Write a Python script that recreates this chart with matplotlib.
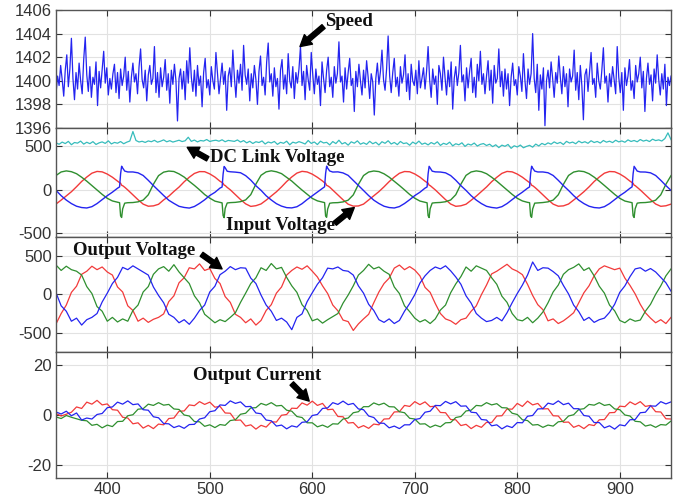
import numpy as np
import matplotlib.pyplot as plt

plt.rcParams['font.family'] = 'Liberation Sans'
plt.rcParams['axes.unicode_minus'] = False

# ---- speed (rpm), sampled every 1.5 units ----
speed = [1398.9, 1400.4, 1399.6, 1401.3, 1400.1, 1398.7, 1400.9, 1402.2, 1399.5, 1401.0, 1403.6, 1400.2, 1398.4, 1400.7, 1399.3, 1401.5, 1400.0, 1398.9, 1401.8, 1403.7,
         1400.5, 1399.1, 1401.2, 1398.6, 1400.3, 1399.7, 1401.6, 1397.9, 1400.8, 1399.4, 1400.9, 1402.5, 1399.8, 1401.1, 1398.8, 1400.2, 1399.3, 1400.6, 1401.4, 1399.0,
         1400.7, 1398.5, 1401.0, 1399.6, 1400.4, 1402.0, 1399.2, 1400.8, 1398.2, 1400.3, 1401.5, 1399.9, 1400.6, 1398.9, 1401.2, 1402.7, 1400.1, 1399.4, 1400.9, 1398.3,
         1400.5, 1401.3, 1399.7, 1400.2, 1402.9, 1399.0, 1400.7, 1398.6, 1401.1, 1399.5, 1400.3, 1401.8, 1399.2, 1400.6, 1398.1, 1400.9, 1399.7, 1401.4, 1400.0, 1396.6,
         1400.2, 1401.0, 1399.3, 1400.8, 1398.4, 1401.7, 1399.8, 1402.8, 1400.3, 1399.1, 1400.9, 1398.7, 1401.3, 1399.6, 1400.4, 1397.8, 1400.7, 1401.9, 1399.4, 1400.1,
         1398.8, 1401.2, 1400.0, 1399.3, 1402.4, 1400.6, 1398.9, 1400.2, 1401.5, 1399.7, 1400.8, 1397.5, 1400.4, 1401.1, 1399.5, 1402.6, 1400.3, 1398.6, 1400.9, 1399.8,
         1401.4, 1399.2, 1403.0, 1400.5, 1399.7, 1401.0, 1398.3, 1400.6, 1399.4, 1401.3, 1400.1, 1398.0, 1400.8, 1402.1, 1399.6, 1400.3, 1398.8, 1401.6, 1403.2, 1399.9,
         1400.6, 1398.7, 1401.1, 1399.5, 1400.2, 1397.6, 1400.9, 1401.8, 1399.3, 1400.5, 1398.9, 1402.3, 1400.0, 1399.4, 1401.2, 1398.5, 1400.7, 1399.8, 1401.0, 1402.9,
         1399.6, 1400.8, 1398.4, 1401.3, 1400.1, 1399.2, 1402.4, 1400.5, 1398.9, 1401.0, 1399.7, 1400.4, 1397.9, 1401.6, 1400.2, 1399.0, 1400.9, 1402.0, 1399.5, 1400.3,
         1398.6, 1401.2, 1399.8, 1400.6, 1403.3, 1399.9, 1400.4, 1398.2, 1401.1, 1399.3, 1400.7, 1401.9, 1399.6, 1400.2, 1397.4, 1400.8, 1399.5, 1401.4, 1400.0, 1398.8,
         1400.9, 1399.4, 1401.7, 1400.3, 1398.5, 1400.6, 1399.9, 1397.1, 1400.2, 1401.5, 1399.7, 1400.8, 1402.6, 1400.1, 1399.2, 1401.0, 1403.8, 1400.4, 1399.0, 1400.7,
         1401.9, 1399.5, 1400.3, 1398.7, 1401.2, 1399.8, 1400.5, 1402.2, 1399.1, 1400.6, 1398.4, 1401.4, 1400.0, 1399.6, 1400.9, 1398.9, 1401.7, 1399.4, 1400.2, 1401.1,
         1399.3, 1400.8, 1402.9, 1400.1, 1398.6, 1401.0, 1399.7, 1400.4, 1398.0, 1401.3, 1400.6, 1399.2, 1402.0, 1400.3, 1398.8, 1400.9, 1399.5, 1401.6, 1397.6, 1400.2,
         1401.2, 1399.6, 1400.7, 1403.0, 1399.9, 1400.5, 1398.3, 1401.1, 1399.4, 1400.8, 1401.9, 1399.0, 1400.3, 1398.6, 1401.4, 1400.0, 1402.5, 1399.7, 1400.6, 1398.9,
         1400.4, 1401.7, 1399.2, 1400.9, 1398.1, 1401.3, 1399.8, 1400.2, 1402.7, 1399.5, 1400.8, 1398.7, 1401.0, 1399.3, 1400.6, 1397.9, 1400.3, 1401.5, 1399.6, 1400.1,
         1398.8, 1401.2, 1400.4, 1399.1, 1402.3, 1400.0, 1398.5, 1401.0, 1399.7, 1400.6, 1404.0, 1400.2, 1399.0, 1401.4, 1397.5, 1400.5, 1399.3, 1401.1, 1396.2, 1400.0,
         1400.9, 1399.4, 1401.6, 1400.2, 1398.6, 1400.7, 1399.8, 1402.1, 1400.3, 1398.9, 1401.2, 1399.5, 1400.6, 1397.8, 1401.0, 1399.9, 1400.4, 1402.6, 1399.2, 1400.7,
         1398.4, 1401.3, 1399.6, 1396.7, 1400.5, 1401.0, 1399.1, 1400.8, 1402.4, 1399.7, 1400.2, 1398.6, 1401.5, 1400.0, 1399.3, 1400.9, 1402.8, 1399.8, 1400.4, 1398.2,
         1400.6, 1399.5, 1401.2, 1400.1, 1398.9, 1402.9, 1400.3, 1399.0, 1400.7, 1397.5, 1401.1, 1399.6, 1400.4, 1401.8, 1399.2, 1400.0, 1398.5, 1401.3, 1399.9, 1400.6,
         1402.0, 1399.4, 1400.8, 1397.4, 1400.2, 1401.5, 1399.7, 1400.5, 1398.3, 1401.0, 1399.8, 1402.2, 1400.1, 1398.8, 1400.6, 1399.3, 1401.4, 1397.9, 1400.3, 1399.6,
         1400.4]

# ---- dc link voltage, sampled every 3 units ----
dc_link = [532, 515, 540, 523, 548, 510, 535, 528, 551, 517, 538, 522, 545, 513, 531, 542, 525, 554, 519, 536,
           527, 546, 521, 539, 552, 660, 558, 541, 549, 536, 553, 544, 560, 539, 550, 565, 543, 556, 540, 551,
           561, 546, 555, 595, 548, 563, 542, 558, 552, 569, 547, 556, 561, 550, 566, 544, 559, 553, 548, 564,
           540, 557, 531, 549, 524, 544, 535, 553, 518, 541, 530, 547, 514, 537, 526, 550, 509, 539, 528, 545,
           533, 518, 558, 525, 541, 512, 550, 530, 537, 508, 546, 523, 561, 519, 535, 505, 543, 527, 554, 516,
           532, 514, 549, 521, 538, 507, 544, 526, 555, 518, 536, 511, 547, 523, 531, 504, 540, 519, 551, 515,
           529, 508, 535, 517, 543, 502, 526, 513, 539, 497, 521, 509, 532, 491, 518, 506, 529, 495, 514, 523,
           501, 516, 488, 509, 477, 505, 492, 513, 469, 498, 484, 506, 475, 491, 503, 482, 517, 496, 525, 509,
           531, 516, 542, 523, 537, 512, 548, 529, 540, 521, 551, 532, 544, 526, 555, 535, 547, 529, 558, 539,
           550, 534, 561, 542, 553, 538, 565, 547, 558, 543, 569, 551, 562, 546, 573, 557, 565, 552, 580, 645,
           568]

# ---- input voltage (three phases), denser around the switching transients ----
t_in = [350, 355, 360, 365, 370, 375, 380, 385, 390, 395, 400, 405, 410, 412, 413, 414, 415, 417, 420, 425, 430, 435, 440, 445,
        450, 455, 460, 465, 470, 475, 480, 485, 490, 495, 500, 505, 510, 512, 513, 514, 515, 517, 520, 525, 530, 535, 540, 545,
        550, 555, 560, 565, 570, 575, 580, 585, 590, 595, 600, 605, 610, 612, 613, 614, 615, 617, 620, 625, 630, 635, 640, 645,
        650, 655, 660, 665, 670, 675, 680, 685, 690, 695, 700, 705, 710, 712, 713, 714, 715, 717, 720, 725, 730, 735, 740, 745,
        750, 755, 760, 765, 770, 775, 780, 785, 790, 795, 800, 805, 810, 812, 813, 814, 815, 817, 820, 825, 830, 835, 840, 845,
        850, 855, 860, 865, 870, 875, 880, 885, 890, 895, 900, 905, 910, 912, 913, 914, 915, 917, 920, 925, 930, 935, 940, 945,
        950]

vin_r = [-165, -120, -72, -25, 32, 92, 142, 186, 206, 201, 176, 140, 96, 78, 72, 48, 44, 26, -5, -60, -116, -166, -190, -186,
         -168, -118, -76, -22, 28, 88, 140, 183, 204, 203, 178, 142, 94, 80, 70, 50, 46, 24, -3, -58, -114, -163, -192, -184,
         -164, -121, -74, -26, 30, 91, 143, 187, 207, 200, 175, 139, 97, 77, 71, 47, 43, 27, -6, -62, -117, -167, -189, -187,
         -166, -119, -73, -24, 31, 90, 141, 185, 205, 202, 177, 141, 95, 79, 73, 49, 45, 25, -4, -59, -115, -165, -191, -185,
         -167, -122, -75, -23, 29, 89, 139, 184, 206, 201, 176, 140, 96, 78, 72, 48, 44, 26, -5, -61, -116, -166, -190, -186,
         -165, -120, -74, -25, 30, 91, 142, 186, 205, 202, 177, 141, 95, 79, 71, 49, 45, 25, -5, -60, -115, -165, -191, -185,
         -166]

vin_g = [160, 200, 212, 203, 180, 140, 95, 45, -5, -55, -100, -130, -145, -150, -300, -318, -220, -155, -150, -148, -140, -120, -60, 60,
         158, 198, 210, 205, 178, 142, 93, 47, -3, -57, -98, -132, -146, -152, -296, -320, -215, -153, -149, -146, -138, -118, -58, 62,
         162, 201, 213, 202, 181, 139, 96, 44, -6, -54, -101, -129, -144, -149, -302, -316, -222, -156, -151, -149, -141, -121, -61, 58,
         159, 199, 211, 204, 179, 141, 94, 46, -4, -56, -99, -131, -145, -151, -298, -319, -218, -154, -150, -147, -139, -119, -59, 61,
         161, 200, 212, 203, 180, 140, 95, 45, -5, -55, -100, -130, -146, -150, -301, -317, -221, -155, -152, -148, -140, -120, -60, 59,
         160, 199, 211, 204, 180, 141, 95, 46, -5, -55, -100, -131, -145, -150, -299, -318, -219, -155, -150, -148, -141, -121, -60, 60,
         158]

vin_b = [-10, -70, -120, -160, -190, -205, -210, -195, -160, -115, -70, -30, 15, 30, 180, 265, 245, 210, 200, 200, 190, 160, 105, 45,
         -12, -68, -122, -158, -191, -204, -211, -193, -158, -117, -68, -32, 17, 28, 176, 262, 248, 208, 202, 198, 191, 158, 107, 43,
         -9, -71, -119, -161, -189, -206, -209, -196, -161, -114, -71, -29, 14, 31, 182, 266, 243, 211, 199, 201, 189, 161, 104, 46,
         -11, -69, -121, -159, -190, -205, -210, -194, -159, -116, -69, -31, 16, 29, 178, 264, 246, 209, 201, 199, 190, 159, 106, 44,
         -10, -70, -120, -160, -191, -204, -211, -195, -160, -115, -70, -30, 15, 30, 181, 265, 244, 210, 200, 200, 191, 160, 105, 45,
         -10, -69, -121, -160, -190, -205, -210, -195, -160, -115, -70, -31, 15, 30, 179, 264, 246, 210, 200, 199, 190, 160, 105, 45,
         -10]

# ---- output voltage, sampled every 5 units ----
vout_r = [-385, -250, -140, 25, 105, 260, 300, 365, 320, 355, 290, 250, 95, 30, -150, -210, -350, -310, -365, -325,
          -300, -255, -95, -20, 150, 215, 345, 330, 395, 310, 335, 205, 140, -30, -105, -260, -300, -370, -320, -400,
          -340, -210, -135, 15, 95, 250, 310, 355, 325, 370, 300, 225, 110, 10, -140, -215, -335, -355, -470, -385,
          -320, -260, -110, 30, 140, 210, 340, 380, 320, 360, 315, 240, 90, 25, -120, -250, -320, -345, -390, -330,
          -310, -220, -150, -5, 120, 265, 300, 345, 390, 330, 300, 255, 130, -15, -135, -200, -345, -320, -380, -345,
          -295, -240, -110, 20, 110, 240, 330, 370, 345, 320, 340, 210, 115, 5, -130, -240, -310, -370, -330, -380,
          -300]

vout_b = [20, -150, -220, -350, -310, -400, -330, -300, -250, -100, 15, 140, 220, 350, 320, 370, 330, 290, 250, 95,
          -15, -110, -260, -300, -370, -330, -390, -310, -210, -140, 30, 105, 255, 300, 360, 320, 345, 340, 210, 140,
          -10, -140, -220, -340, -310, -360, -460, -300, -255, -95, 20, 130, 215, 340, 330, 355, 310, 300, 250, 110,
          15, -130, -210, -330, -365, -320, -380, -340, -220, -120, -5, 145, 240, 310, 355, 330, 370, 305, 225, 130,
          -20, -115, -250, -310, -355, -340, -300, -345, -240, -110, 10, 120, 250, 420, 310, 345, 340, 295, 240, 115,
          5, -140, -225, -340, -300, -365, -330, -310, -235, -130, 25, 110, 230, 330, 345, 300, 335, 290, 220, 150,
          40]

vout_g = [380, 310, 365, 320, 300, 250, 100, 10, -160, -220, -350, -300, -360, -320, -350, -210, -140, 30, 100, 260,
          330, 360, 300, 385, 290, 215, 140, -20, -110, -260, -315, -370, -330, -355, -300, -240, -105, 15, 140, 215,
          345, 310, 400, 330, 350, 220, 110, 25, -135, -210, -345, -320, -375, -330, -290, -250, -115, -10, 110, 250,
          310, 390, 330, 355, 300, 260, 95, 10, -150, -225, -310, -360, -330, -380, -320, -205, -140, 20, 135, 230,
          355, 300, 370, 340, 310, 215, 130, -25, -105, -250, -330, -345, -300, -370, -310, -230, -110, 30, 120, 260,
          320, 350, 395, 310, 345, 240, 105, 15, -140, -215, -340, -370, -320, -350, -335, -220, -130, 0, 110, 240,
          330]

# ---- output current, sampled every 5 units ----
iout_r = [0.6, -0.4, 0.3, 1.1, 3.2, 2.6, 5.1, 4.3, 5.8, 4.0, 4.4, 2.1, 1.9, -0.9, -1.2, -3.5, -3.1, -5.2, -4.1, -5.4,
          -3.6, -3.9, -1.4, -1.2, 1.5, 1.6, 4.0, 3.7, 5.3, 4.2, 5.1, 3.1, 3.4, 0.8, 0.7, -2.1, -2.0, -4.4, -3.9, -5.6,
          -4.1, -4.8, -2.7, -2.8, -0.1, 0.2, 2.7, 2.6, 4.8, 3.9, 5.5, 3.8, 4.6, 2.1, 2.3, -0.6, -0.7, -3.2, -3.0, -5.1,
          -4.2, -5.3, -3.6, -3.9, -1.6, -1.5, 1.2, 1.3, 3.8, 3.4, 5.3, 4.1, 5.2, 3.3, 3.5, 1.0, 0.9, -1.8, -1.9, -4.2,
          -3.7, -5.4, -4.1, -4.9, -2.9, -3.0, -0.4, -0.3, 2.4, 2.3, 4.6, 3.4, 5.5, 4.0, 4.6, 2.4, 2.5, -0.3, -0.4, -2.9,
          -2.8, -4.9, -4.1, -5.4, -3.8, -4.2, -1.9, -1.8, 0.9, 1.0, 3.5, 3.3, 5.2, 4.1, 5.3, 3.4, 3.8, 1.3, 1.2, -1.5,
          -1.6]

iout_b = [1.2, 0.4, 1.5, -0.3, 0.8, -2.0, -1.2, -1.6, 0.2, 0.6, 2.9, 3.2, 5.1, 4.3, 5.6, 4.1, 4.4, 2.1, 1.9, -0.7,
          -1.1, -3.4, -3.5, -5.0, -4.3, -5.3, -3.8, -3.7, -1.6, -1.1, 1.3, 1.7, 4.0, 3.8, 5.6, 4.6, 5.2, 3.3, 3.4, 0.8,
          0.5, -2.0, -2.3, -4.4, -4.0, -5.5, -4.3, -4.8, -2.9, -2.7, -0.2, 0.2, 2.6, 2.8, 4.9, 4.2, 5.5, 4.1, 4.6, 2.4,
          2.1, -0.4, -1.0, -3.2, -3.3, -5.1, -4.4, -5.4, -3.9, -3.9, -1.8, -1.4, 1.1, 1.5, 3.8, 3.7, 5.4, 4.4, 5.3, 3.5,
          3.6, 1.1, 0.9, -1.8, -2.0, -4.3, -3.9, -5.5, -4.3, -5.0, -3.0, -3.1, -0.5, -0.2, 2.4, 2.5, 4.7, 4.2, 5.6, 4.1,
          4.7, 2.5, 2.5, -0.2, -0.5, -3.0, -3.0, -5.1, -4.3, -5.6, -3.9, -4.3, -1.9, -1.8, 0.9, 1.1, 3.6, 3.5, 5.3, 4.4,
          5.2]

iout_g = [-0.8, -1.4, -0.2, -0.9, -1.5, -2.1, -2.3, -4.1, -3.7, -5.1, -4.0, -4.6, -2.6, -2.5, -0.3, 0.1, 2.3, 2.5, 4.3, 3.8,
          4.9, 3.9, 4.2, 2.4, 2.2, 0.0, -0.4, -2.6, -2.7, -4.5, -3.9, -5.0, -3.8, -4.1, -2.2, -1.9, 0.3, 0.7, 2.8, 2.9,
          4.6, 3.9, 4.9, 3.6, 3.8, 1.9, 1.5, -0.6, -1.0, -3.1, -3.1, -4.7, -4.0, -4.9, -3.5, -3.6, -1.6, -1.2, 0.9, 1.3,
          3.3, 3.3, 4.8, 4.0, 4.7, 3.3, 3.2, 1.3, 0.9, -1.3, -1.6, -3.6, -3.5, -4.9, -4.0, -4.7, -3.1, -3.0, -1.0, -0.6,
          1.6, 1.9, 3.8, 3.6, 4.9, 4.0, 4.5, 2.9, 2.8, 0.7, 0.2, -1.9, -2.2, -4.0, -3.8, -4.9, -4.0, -4.4, -2.7, -2.5,
          -0.4, 0.1, 2.2, 2.5, 4.2, 3.9, 4.9, 3.8, 4.2, 2.4, 2.1, 0.0, -0.4, -2.5, -2.7, -4.4, -3.9, -4.9, -3.8, -4.0,
          -2.4]

t_speed = np.linspace(350, 950, len(speed))
t_dc = np.linspace(350, 950, len(dc_link))
t_out = np.linspace(350, 950, len(vout_r))

RED = '#f23a3a'
GREEN = '#2f8f2f'
BLUE = '#2424f0'
CYAN = '#36bcbc'

fig = plt.figure(figsize=(6.8, 5.04), dpi=100)
left, width = 0.0824, 0.9044
ax1 = fig.add_axes([left, 0.746, width, 0.2342])
ax2 = fig.add_axes([left, 0.5298, width, 0.2162], sharex=ax1)
ax3 = fig.add_axes([left, 0.3016, width, 0.2282], sharex=ax1)
ax4 = fig.add_axes([left, 0.0516, width, 0.25], sharex=ax1)

ax1.plot(t_speed, speed, color=BLUE, lw=0.9)
ax2.plot(t_dc, dc_link, color=CYAN, lw=0.9)
ax2.plot(t_in, vin_r, color=RED, lw=1.0)
ax2.plot(t_in, vin_g, color=GREEN, lw=1.0)
ax2.plot(t_in, vin_b, color=BLUE, lw=1.0)
ax3.plot(t_out, vout_r, color=RED, lw=0.9)
ax3.plot(t_out, vout_g, color=GREEN, lw=0.9)
ax3.plot(t_out, vout_b, color=BLUE, lw=0.9)
ax4.plot(t_out, iout_r, color=RED, lw=0.9)
ax4.plot(t_out, iout_g, color=GREEN, lw=0.9)
ax4.plot(t_out, iout_b, color=BLUE, lw=0.9)

ax1.set_ylim(1396, 1406)
ax1.set_yticks([1396, 1398, 1400, 1402, 1404, 1406])
ax2.set_ylim(-540, 700)
ax2.set_yticks([-500, 0, 500])
ax3.set_ylim(-750, 745)
ax3.set_yticks([-500, 0, 500])
ax4.set_ylim(-25, 25)
ax4.set_yticks([-20, 0, 20])

for ax in (ax1, ax2, ax3, ax4):
    ax.set_xlim(350, 950)
    ax.set_xticks([400, 500, 600, 700, 800, 900])
    ax.grid(True, color='#e2e2e2', lw=0.8)
    ax.set_axisbelow(True)
    ax.tick_params(direction='in', top=True, right=True, length=4,
                   labelsize=12, colors='#333333', pad=3)
    for s in ax.spines.values():
        s.set_color('#555555')
        s.set_linewidth(1.0)
    if ax is not ax4:
        ax.tick_params(labelbottom=False)

txt = dict(family='Liberation Serif', weight='bold', fontsize=13.5, color='#111111')
arr = dict(arrowstyle='simple,head_length=0.8,head_width=0.9,tail_width=0.35',
           fc='black', ec='black', mutation_scale=10, shrinkA=0, shrinkB=0)

ax1.text(612, 1405.0, 'Speed', ha='left', va='center', **txt)
ax1.annotate('', xy=(588, 1402.9), xytext=(611, 1404.6), arrowprops=arr)

ax2.text(500, 364, 'DC Link Voltage', ha='left', va='center', **txt)
ax2.annotate('', xy=(478, 480), xytext=(498, 350), arrowprops=arr)

ax2.text(516, -409, 'Input Voltage', ha='left', va='center', **txt)
ax2.annotate('', xy=(641, -205), xytext=(622, -385), arrowprops=arr)

ax3.text(367, 571, 'Output Voltage', ha='left', va='center', **txt)
ax3.annotate('', xy=(512, 330), xytext=(492, 520), arrowprops=arr)

ax4.text(484, 15.6, 'Output Current', ha='left', va='center', **txt)
ax4.annotate('', xy=(597, 5.5), xytext=(580, 12.5), arrowprops=arr)

fig.savefig('out.png', dpi=100)
